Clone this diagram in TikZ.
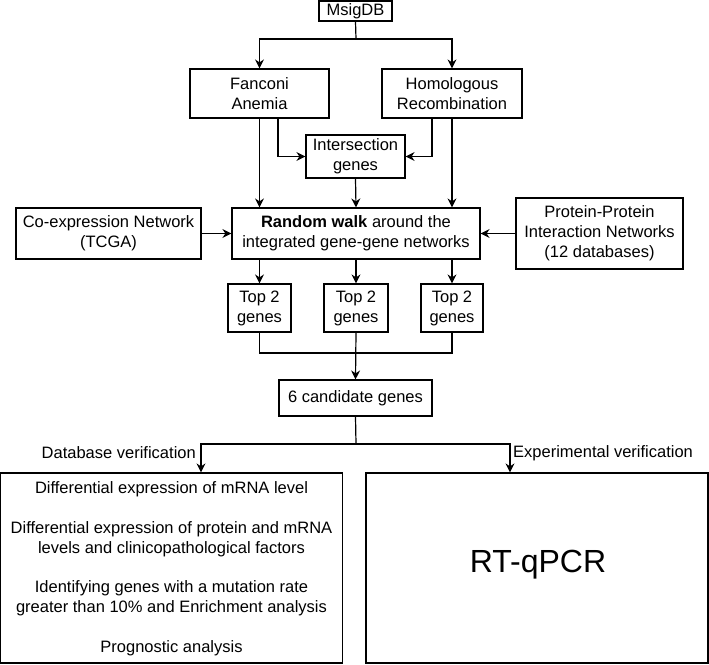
\documentclass[tikz,border=0pt]{standalone}
\usepackage{fontspec}
\setmainfont{Liberation Sans}
\usetikzlibrary{arrows.meta}
\begin{document}
\begin{tikzpicture}[x=1pt,y=-1pt,
  box/.style={draw,line width=1.2pt,rectangle,inner sep=0pt,align=center,font=\fontsize{16.5}{20}\selectfont},
  txt/.style={inner sep=0pt,align=center,font=\fontsize{16.5}{20}\selectfont},
  ln/.style={line width=1.2pt},
  arr/.style={line width=1.2pt,-{Stealth[length=9pt,width=9pt,inset=3pt]}}]
\useasboundingbox (0,0) rectangle (709,664);
\node[box,minimum width=73pt,minimum height=20pt] (msig) at (355.5,11) {MsigDB};
\node[box,minimum width=139pt,minimum height=49pt] (fa) at (259.5,93.5) {Fanconi\\Anemia};
\node[box,minimum width=140pt,minimum height=49pt] (hr) at (452,93.5) {Homologous\\Recombination};
\node[box,minimum width=99pt,minimum height=43pt] (inter) at (355.5,156.5) {Intersection\\genes};
\node[box,minimum width=248pt,minimum height=51pt] (rw) at (356,233.5) {\textbf{Random walk} around the\\integrated gene-gene networks};
\node[box,minimum width=185pt,minimum height=51pt] (co) at (108.5,233.5) {Co-expression Network\\(TCGA)};
\node[box,minimum width=167pt,minimum height=71pt] (ppi) at (599.5,233.5) {Protein-Protein\\Interaction Networks\\(12 databases)};
\node[box,minimum width=63pt,minimum height=48pt] (t1) at (259.5,308) {Top 2\\genes};
\node[box,minimum width=64pt,minimum height=48pt] (t2) at (356,308) {Top 2\\genes};
\node[box,minimum width=62pt,minimum height=48pt] (t3) at (452,308) {Top 2\\genes};
\node[box,minimum width=153pt,minimum height=36pt] (cand) at (355.5,398) {6 candidate genes};
\node[box,minimum width=342pt,minimum height=190pt] (lbox) at (171.5,568) {};
\node[box,minimum width=342pt,minimum height=190pt] (rbox) at (537,568) {};
\node[txt] (l1) at (171.5,489) {Differential expression of mRNA level};
\node[txt] (l2) at (171.5,539) {Differential expression of protein and mRNA\\levels and clinicopathological factors};
\node[txt] (l3) at (171.5,598.5) {Identifying genes with a mutation rate\\greater than 10\% and Enrichment analysis};
\node[txt] (l4) at (171.5,648) {Prognostic analysis};
\node[inner sep=0pt,font=\fontsize{32}{38}\selectfont] (rt) at (538,565) {RT-qPCR};
\node[txt,anchor=east] (dbv) at (196,453) {Database verification};
\node[txt,anchor=west] (exv) at (513,453) {Experimental verification};
% connectors
\coordinate (j1) at (356,39);
\draw[ln] (msig.south) -- (j1);
\draw[arr] (j1) -| (fa.north);
\draw[arr] (j1) -| (hr.north);
\draw[arr] ([xshift=18.5pt]fa.south) |- (inter.west);
\draw[arr] ([xshift=-20pt]hr.south) |- (inter.east);
\draw[arr] (fa.south) -- (fa.south |- rw.north);
\draw[arr] (inter.south) -- (rw.north);
\draw[arr] (hr.south) -- (hr.south |- rw.north);
\draw[arr] (co.east) -- (rw.west);
\draw[arr] (ppi.west) -- (rw.east);
\draw[arr] (t1.north |- rw.south) -- (t1.north);
\draw[arr] (t2.north |- rw.south) -- (t2.north);
\draw[arr] (t3.north |- rw.south) -- (t3.north);
\coordinate (j2) at (356,353);
\draw[ln] (t1.south) |- (j2);
\draw[ln] (t3.south) |- (j2);
\draw[arr] (t2.south) -- (cand.north);
\coordinate (j3) at (356,444);
\coordinate (ax) at (201,0);
\coordinate (bx) at (510,0);
\draw[ln] (cand.south) -- (j3);
\draw[arr] (j3) -| (ax |- lbox.north);
\draw[arr] (j3) -| (bx |- rbox.north);
\end{tikzpicture}
\end{document}
